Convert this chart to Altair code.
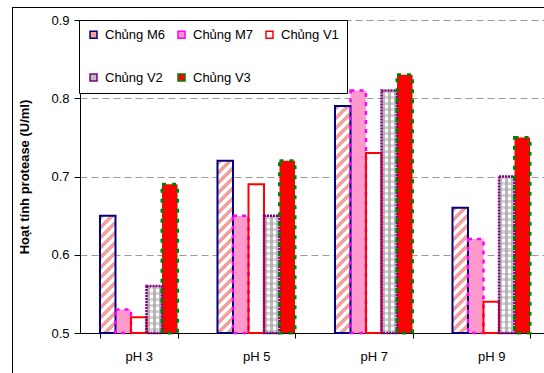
import math

import altair as alt
import pandas as pd

# ---- data -------------------------------------------------------------
ph_levels = ["pH 3", "pH 5", "pH 7", "pH 9"]
strains = ["Chủng M6", "Chủng M7", "Chủng V1", "Chủng V2", "Chủng V3"]

m6 = [0.65, 0.72, 0.79, 0.66]
m7 = [0.53, 0.65, 0.81, 0.62]
v1 = [0.52, 0.69, 0.73, 0.54]
v2 = [0.56, 0.65, 0.81, 0.70]
v3 = [0.69, 0.72, 0.83, 0.75]

series_values = [m6, m7, v1, v2, v3]

fill_colors = ["#f4a09c", "#ff99cc", "#ffffff", "#bdbdbd", "#ff0000"]
stroke_colors = ["#000080", "#ff00ff", "#ff0000", "#800080", "#008000"]
stroke_dashes = [[1, 0], [4, 5], [1, 0], [2, 1], [4, 6]]
stroke_widths = [2, 2.5, 2, 2.5, 3]

rows = []
for name, vals in zip(strains, series_values):
    for ph, v in zip(ph_levels, vals):
        rows.append({"ph": ph, "strain": name, "activity": v, "base": 0.5})
df = pd.DataFrame(rows)

# ---- layout -----------------------------------------------------------
FONT = "Liberation Sans"
W, H = 464, 313
X_RANGE = 470          # the band scale runs a little past the visible width
Y_MIN, Y_MAX = 0.5, 0.9
PAD_INNER = 0.34

step = X_RANGE / len(ph_levels)
bar_w = step * (1 - PAD_INNER) / len(strains)


def bar_h(v):
    return (v - Y_MIN) / (Y_MAX - Y_MIN) * H


x_scale = alt.Scale(domain=ph_levels, range=[0, X_RANGE],
                    paddingInner=PAD_INNER, paddingOuter=PAD_INNER / 2)
off_scale = alt.Scale(domain=strains, paddingInner=0, paddingOuter=0)
y_scale = alt.Scale(domain=[Y_MIN, Y_MAX], nice=False, zero=False)

x_axis = alt.Axis(title=None, tickBand="extent", tickSize=5, tickColor="black",
                  domainColor="black", labelFont=FONT, labelFontSize=13,
                  labelColor="black", labelPadding=12, labelAngle=0, grid=False)
y_axis = alt.Axis(title="Hoạt tính protease (U/ml)", values=[0.5, 0.6, 0.7, 0.8, 0.9],
                  format=".1f", tickSize=6, tickColor="black", domainColor="black",
                  labelFont=FONT, labelFontSize=13, labelColor="black", labelPadding=5,
                  titleFont=FONT, titleFontSize=13, titleFontWeight="bold",
                  titleColor="black", titlePadding=19,
                  grid=True, gridDash=[7, 4], gridColor="#9a9a9a", gridWidth=1)

fill_scale = alt.Scale(domain=strains, range=fill_colors)
stroke_scale = alt.Scale(domain=strains, range=stroke_colors)

legend_def = alt.Legend(
    title=None, orient="none", legendX=-1, legendY=0, columns=3,
    direction="horizontal",
    fillColor="white", strokeColor="black", padding=8,
    rowPadding=29, columnPadding=10, symbolType="square", symbolSize=49,
    symbolStrokeWidth=1.5, labelFont=FONT, labelFontSize=13, labelColor="black",
    labelOffset=5,
)


def positions():
    return dict(
        x=alt.X("ph:N", sort=ph_levels, scale=x_scale, axis=x_axis),
        xOffset=alt.XOffset("strain:N", sort=strains, scale=off_scale),
        y=alt.Y("activity:Q", scale=y_scale, axis=y_axis),
        y2=alt.Y2("base:Q"),
    )


def only(strain, ph=None):
    expr = alt.datum.strain == strain
    if ph is not None:
        expr = expr & (alt.datum.ph == ph)
    return expr


# ---- fills ------------------------------------------------------------
def hatch_gradient(w, h, period=10.0, ink="#f4a09c", paper="#ffffff"):
    """Diagonal '/' stripes inside a w x h box via a bounding-box gradient."""
    d = w * w + h * h
    span = w + h
    stops = []
    n = math.ceil(span / period)
    for k in range(n):
        a = min(1.0, k * period / span)
        b = min(1.0, (k + 0.5) * period / span)
        c = min(1.0, (k + 1) * period / span)
        stops += [{"offset": a, "color": ink}, {"offset": b, "color": ink},
                  {"offset": b, "color": paper}, {"offset": c, "color": paper}]
    return {"gradient": "linear", "x1": 0, "y1": 0,
            "x2": span * w / d, "y2": span * h / d, "stops": stops}


def stripe_gradient(length, cell, ink, paper, vertical):
    stops = []
    n = math.ceil(length / (2 * cell))
    for k in range(n):
        a = min(1.0, 2 * k * cell / length)
        b = min(1.0, (2 * k + 1) * cell / length)
        c = min(1.0, (2 * k + 2) * cell / length)
        stops += [{"offset": a, "color": ink}, {"offset": b, "color": ink},
                  {"offset": b, "color": paper}, {"offset": c, "color": paper}]
    g = {"gradient": "linear", "x1": 0, "y1": 0, "x2": 1, "y2": 0, "stops": stops}
    if not vertical:
        g.update({"x2": 0, "y2": 1})
    return g


base = alt.Chart(df)

# outer frame around the whole figure
frame = base.mark_rect(fill="transparent", stroke="black", strokeWidth=1).encode(
    x=alt.value(-67.5), x2=alt.value(700), y=alt.value(-12.5), y2=alt.value(500)
)

# plain bars: carry the fill/stroke scales and the legend
fill_layer = base.mark_bar(strokeWidth=0).encode(
    fill=alt.Fill("strain:N", sort=strains, scale=fill_scale, legend=legend_def),
    stroke=alt.Stroke("strain:N", sort=strains, scale=stroke_scale, legend=legend_def),
    **positions(),
)

pattern_layers = []
for ph, v in zip(ph_levels, m6):
    pattern_layers.append(
        base.transform_filter(only("Chủng M6", ph))
        .mark_bar(strokeWidth=0, fill=hatch_gradient(bar_w, bar_h(v)))
        .encode(**positions())
    )
for ph, v in zip(ph_levels, v2):
    h = bar_h(v)
    pattern_layers.append(
        base.transform_filter(only("Chủng V2", ph))
        .mark_bar(strokeWidth=0,
                  fill=stripe_gradient(bar_w, 3, "#bcbcbc", "#ffffff", vertical=True))
        .encode(**positions())
    )
    pattern_layers.append(
        base.transform_filter(only("Chủng V2", ph))
        .mark_bar(strokeWidth=0,
                  fill=stripe_gradient(h, 3, "rgba(160,160,160,0.45)",
                                       "rgba(255,255,255,0)", vertical=False))
        .encode(**positions())
    )

outline_layers = []
for name, col, dash, sw in zip(strains, stroke_colors, stroke_dashes, stroke_widths):
    outline_layers.append(
        base.transform_filter(only(name))
        .mark_bar(fillOpacity=0, stroke=col, strokeDash=dash, strokeWidth=sw)
        .encode(**positions())
    )

chart = alt.layer(
    fill_layer, *pattern_layers, *outline_layers, frame
).properties(
    width=W, height=H,
    background="white",
    autosize=alt.AutoSizeParams(type="none"),
    padding={"left": 80, "top": 20, "right": 0, "bottom": 40},
).configure_view(strokeWidth=0)

chart.save("out.html", embed_options={"renderer": "svg", "actions": False})
